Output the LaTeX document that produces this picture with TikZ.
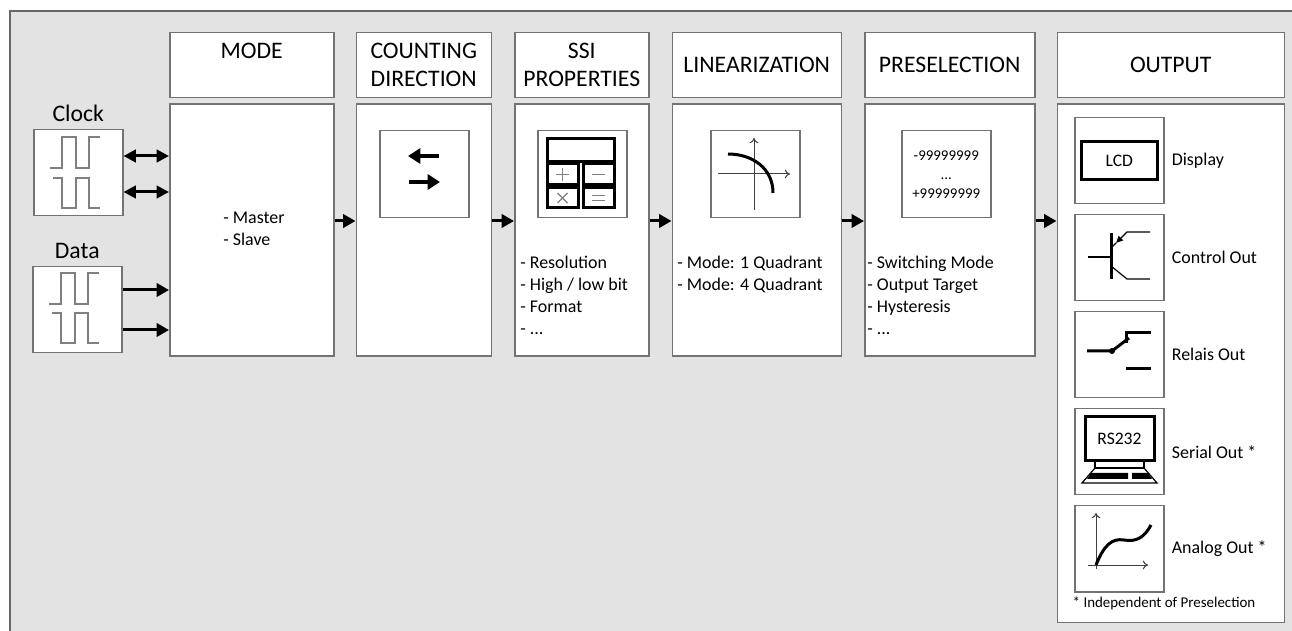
\documentclass[tikz,border=0pt]{standalone}
\usepackage{fontspec}
\setmainfont{Carlito}
\usetikzlibrary{positioning,arrows.meta}
\newlength{\px}
\setlength{\px}{0.02cm}
\newcommand{\pulseup}[1]% start, low level first
{(#1) -- ++(12,0) -- ++(0,-31) -- ++(14,0) -- ++(0,31) -- ++(13,0) -- ++(0,-31) -- ++(11,0)
}
\newcommand{\pulsedown}[1]% start, high level first
{(#1) -- ++(9,0) -- ++(0,30) -- ++(14,0) -- ++(0,-30) -- ++(13,0) -- ++(0,30) -- ++(11,0)
}
\tikzset{
	frame/.style={draw=black!55, line width=1.5\px, fill=white, inner sep=0pt},
	head/.style={frame, minimum height=65\px, align=center, font=\fontsize{13.5}{15.9}\selectfont},
	body/.style={frame, minimum height=252\px},
	icon/.style={frame, anchor=north west, minimum width=89\px, minimum height=87\px},
	outbox/.style={frame, minimum width=89\px, minimum height=86\px},
	list/.style={anchor=north west, inner sep=0pt, align=left, font=\fontsize{10.2}{12.5}\selectfont},
	outlabel/.style={inner sep=0pt, anchor=west, font=\fontsize{10.2}{12.5}\selectfont},
	small/.style={font=\fontsize{8.5}{10.8}\selectfont},
	flow/.style={-{Triangle[length=7pt,width=7.5pt]}, line width=3\px},
	both/.style={{Triangle[length=7pt,width=7pt]}-{Triangle[length=7pt,width=7pt]}, line width=3\px},
	wave/.style={black!50, line width=1.2\px},
	sym/.style={line width=3\px},
	fine/.style={line width=1.2\px},
	sign/.style={black!50, line width=1.2\px},
	axis/.style={black!75, line width=1\px, -{To[length=3pt,width=5pt]}}
}
\begin{document}
\begin{tikzpicture}[x=0.02cm, y=-0.02cm]
	\useasboundingbox (0,0) rectangle (1292,631);
	\fill[black!11] (10,11) rectangle (1292,631);
	\draw[black!60, line width=1.5\px] (10,631) -- (10,11) -- (1292,11);
	% stage headers
	\node[head, anchor=north west, minimum width=164\px] (modehead) at (169,32) {MODE\\~};
	\node[head, right=21\px of modehead, minimum width=135\px] (countinghead) {COUNTING\\DIRECTION};
	\node[head, right=22\px of countinghead, minimum width=134\px] (ssihead) {SSI\\PROPERTIES};
	\node[head, right=22\px of ssihead, minimum width=169\px] (linhead) {LINEARIZATION};
	\node[head, right=22\px of linhead, minimum width=170\px] (preselhead) {PRESELECTION};
	\node[head, right=21\px of preselhead, minimum width=227\px] (outhead) {OUTPUT};
	% stage bodies
	\node[body, below=5\px of modehead, minimum width=164\px] (mode) {};
	\node[body, below=5\px of countinghead, minimum width=135\px] (counting) {};
	\node[body, below=5\px of ssihead, minimum width=134\px] (ssi) {};
	\node[body, below=5\px of linhead, minimum width=169\px] (lin) {};
	\node[body, below=5\px of preselhead, minimum width=170\px] (presel) {};
	\node[body, below=5\px of outhead, minimum width=227\px, minimum height=518\px] (out) {};
	% inputs
	\node[frame, anchor=north west, minimum width=89\px, minimum height=86\px] (clock) at (33,129) {};
	\node[frame, anchor=north west, minimum width=89\px, minimum height=86\px] (data) at (32,266) {};
	\node[above=1\px of clock, font=\fontsize{13.5}{15.9}\selectfont] (clocklabel) {Clock};
	\node[above=1\px of data, font=\fontsize{13.5}{15.9}\selectfont] (datalabel) {Data};
	\draw[wave] \pulseup{50,168};
	\draw[wave] \pulsedown{53,178};
	\draw[wave] \pulseup{49,304};
	\draw[wave] \pulsedown{52,313};
	\path (0,156) coordinate (c1) (0,192) coordinate (c2)
		(0,290) coordinate (d1) (0,330) coordinate (d2) (0,221) coordinate (flowline);
	\draw[both] (clock.east |- c1) -- (mode.west |- c1);
	\draw[both] (clock.east |- c2) -- (mode.west |- c2);
	\draw[flow] (data.east |- d1) -- (mode.west |- d1);
	\draw[flow] (data.east |- d2) -- (mode.west |- d2);
	% flow between stages
	\draw[flow] (mode.east |- flowline) -- (counting.west |- flowline);
	\draw[flow] (counting.east |- flowline) -- (ssi.west |- flowline);
	\draw[flow] (ssi.east |- flowline) -- (lin.west |- flowline);
	\draw[flow] (lin.east |- flowline) -- (presel.west |- flowline);
	\draw[flow] (presel.east |- flowline) -- (out.west |- flowline);
	% stage texts
	\node[list] (modelist) at (223,212) {- Master\\- Slave};
	\node[list] (ssilist) at (520,256) {- Resolution\\- High / low bit\\- Format\\- ...};
	\node[list] (linlist) at (677,256) {- Mode: 1 Quadrant\\- Mode: 4 Quadrant};
	\node[list] (presellist) at (867,256) {- Switching Mode\\- Output Target\\- Hysteresis\\- ...};
	% icons
	\node[icon] (countingicon) at (379,130) {};
	\draw[line width=3.5\px, -{Triangle[length=7pt,width=8.5pt]}] (439,156) -- (408,156);
	\draw[line width=3.5\px, -{Triangle[length=7pt,width=8.5pt]}] (409,182) -- (440,182);
	\node[icon] (ssiicon) at (537,130) {};
	\draw[sym] (547,139) rectangle (614,162);
	\draw[sym] (547,164) rectangle (578,185);
	\draw[sym] (583,164) rectangle (614,185);
	\draw[sym] (547,188) rectangle (578,208);
	\draw[sym] (583,188) rectangle (614,208);
	\draw[sign] (556,174.5) -- (569,174.5) (562.5,168) -- (562.5,181);
	\draw[sign] (592,174.5) -- (605,174.5);
	\draw[sign] (557.5,193) -- (567.5,203) (557.5,203) -- (567.5,193);
	\draw[sign] (592,195.5) -- (605,195.5) (592,200.5) -- (605,200.5);
	\node[icon] (linicon) at (710,130) {};
	\draw[axis] (754,210) -- (754,138);
	\draw[axis] (718,174) -- (790,174);
	\draw[sym] (728,154) .. controls (752,154) and (773,168) .. (773,193);
	\node[icon, small, align=center] (preselicon) at (901,130) {-99999999\\...\\+99999999};
	% outputs
	\node[outbox, anchor=north west] (dispbox) at (1074,117) {};
	\node[outbox, below=9.5\px of dispbox] (ctrlbox) {};
	\node[outbox, below=9.5\px of ctrlbox] (relbox) {};
	\node[outbox, below=9.5\px of relbox] (serbox) {};
	\node[outbox, below=9.5\px of serbox] (anabox) {};
	\node[outlabel, right=7\px of dispbox] (displabel) {Display};
	\node[outlabel, right=7\px of ctrlbox] (ctrllabel) {Control Out};
	\node[outlabel, right=7\px of relbox] (rellabel) {Relais Out};
	\node[outlabel, right=7\px of serbox] (serlabel) {Serial Out *};
	\node[outlabel, right=7\px of anabox] (analabel) {Analog Out *};
	\node[draw, sym, minimum width=76\px, minimum height=38\px, font=\fontsize{10}{12}\selectfont] (lcd) at (dispbox.center) {LCD};
	\draw[sym] (1111,233) -- (1111,279);
	\draw[fine] (1088,257) -- (1111,257);
	\draw[fine, -{Triangle[length=4pt,width=3.5pt]}] (1150,232) -- (1127,232) -- (1116,243);
	\draw[fine] (1116,243) -- (1111,248);
	\draw[fine] (1111,266) -- (1127,279) -- (1150,279);
	\draw[sym] (1087,351) -- (1112,351) -- (1129,338);
	\fill (1112,351) circle[radius=3\px];
	\draw[sym] (1126,343) -- (1126,333) -- (1151,333);
	\draw[sym] (1126,369) -- (1151,369);
	\node[draw, sym, minimum width=69\px, minimum height=44\px, font=\fontsize{10}{12}\selectfont] (rs) at (1119.5,439) {RS232};
	\draw[fine] (1095,461) rectangle (1144,468);
	\draw[fine] (1082,483) -- (1095,468) -- (1144,468) -- (1157,483) -- cycle;
	\fill (1091,473) -- (1128,473) -- (1128,479) -- (1087,479) -- cycle;
	\fill (1132,473) -- (1148,473) -- (1152,479) -- (1132,479) -- cycle;
	\draw[axis] (1096,569) -- (1096,513);
	\draw[axis] (1088,565) -- (1148,565);
	\draw[sym] (1096,565) .. controls (1104,545) and (1112,538) .. (1124,540) .. controls (1136,542) and (1144,538) .. (1151,525);
	\node[small] (footnote) at (1164,603) {* Independent of Preselection};
\end{tikzpicture}
\end{document}
